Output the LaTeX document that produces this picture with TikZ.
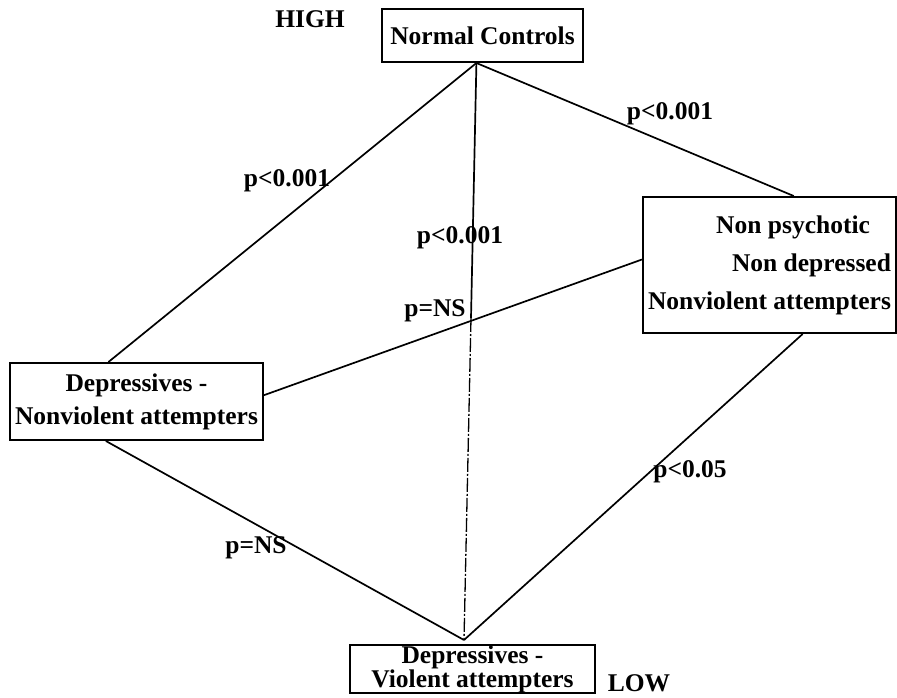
\documentclass[tikz,border=0pt]{standalone}
\usepackage{fontspec}
\setmainfont{Liberation Serif}
\usetikzlibrary{calc}
\begin{document}
\begin{tikzpicture}[x=1pt,y=-1pt,
  txt/.style={font=\fontsize{25.5}{25.5}\selectfont\bfseries, inner sep=0pt},
  box/.style={draw, line width=2pt, rectangle, inner sep=0pt, align=center,
    font=\fontsize{25.5}{25.5}\selectfont\bfseries},
  link/.style={line width=1.7pt}]
\useasboundingbox (0,0) rectangle (897,698);
% boxes
\node[box, minimum width=201pt, minimum height=53pt] (nc) at (482.5,35.5) {Normal Controls};
\node[box, minimum width=253pt, minimum height=136pt, align=right,
  font=\fontsize{25.5}{38}\selectfont\bfseries] (nn) at (769.5,265)
  {Non psychotic\hspace*{21pt}\\Non depressed\hspace*{21pt}\\Nonviolent attempters};
\node[box, minimum width=253pt, minimum height=77pt,
  font=\fontsize{25.5}{33}\selectfont\bfseries] (dn) at (136.5,401.5)
  {Depressives -\\Nonviolent attempters};
\node[box, minimum width=245pt, minimum height=48pt,
  font=\fontsize{25.5}{23}\selectfont\bfseries] (dv) at (472.5,669)
  {Depressives -\\Violent attempters};
% anchor points
\coordinate (top) at ($(nc.south west)!0.47!(nc.south east)$);
\coordinate (vtx) at (464,640);
\coordinate (mid) at (471,318);
% connectors
\draw[link] (top) -- ($(nn.north west)!0.595!(nn.north east)$);
\draw[link] (top) -- ($(dn.north west)!0.39!(dn.north east)$);
\draw[link] (top) -- (mid);
\draw[link, line width=1.3pt, dash pattern=on 14pt off 2pt on 2pt off 2pt] (mid) -- (vtx);
\draw[link] ($(dn.north east)!0.42!(dn.south east)$) -- ($(nn.north west)!0.46!(nn.south west)$);
\draw[link] ($(dn.south west)!0.38!(dn.south east)$) -- (vtx);
\draw[link] ($(nn.south west)!0.63!(nn.south east)$) -- (vtx);
% labels
\node[txt] (high) at (310,19) {HIGH};
\node[txt] (low) at (639,683) {LOW};
\node[txt] (p1) at (670,114) {p<0.001};
\node[txt] (p2) at (287,181) {p<0.001};
\node[txt] (p3) at (460,238) {p<0.001};
\node[txt] (p4) at (435,311) {p=NS};
\node[txt] (p5) at (690,472) {p<0.05};
\node[txt] (p6) at (256,548) {p=NS};
\end{tikzpicture}
\end{document}
